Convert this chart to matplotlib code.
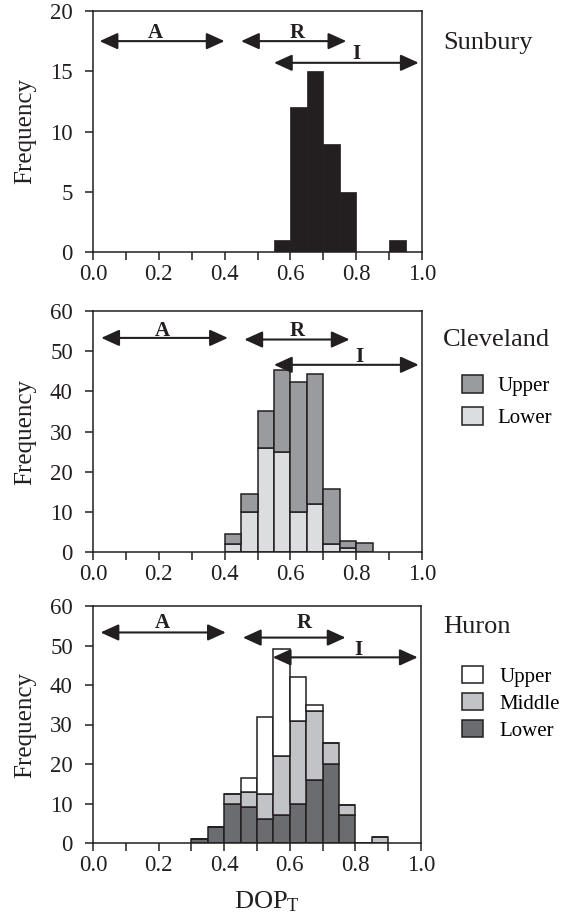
import matplotlib
matplotlib.use("Agg")
import matplotlib.pyplot as plt
from matplotlib.patches import Patch

plt.rcParams.update({
    'font.family': 'Liberation Serif',
    'mathtext.fontset': 'custom',
    'mathtext.rm': 'Liberation Serif',
    'mathtext.it': 'Liberation Serif:italic',
    'axes.linewidth': 1.1,
    'xtick.labelsize': 16.5,
    'ytick.labelsize': 16.5,
})

INK = '#231f20'
BIN_W = 0.05

# Sunbury
sunbury_bins = [0.55, 0.60, 0.65, 0.70, 0.75, 0.80, 0.85, 0.90]
sunbury_freq = [1, 12, 15, 9, 5, 0, 0, 1]

# Cleveland (stacked: lower + upper)
cleveland_bins = [0.40, 0.45, 0.50, 0.55, 0.60, 0.65, 0.70, 0.75, 0.80]
cleveland_lower = [2, 10, 26, 25, 10, 12, 2, 1, 0]
cleveland_upper = [2.4, 4.4, 9.2, 20.3, 32.2, 32.2, 13.6, 1.7, 2.2]

# Huron (stacked: lower + middle + upper)
huron_bins = [0.30, 0.35, 0.40, 0.45, 0.50, 0.55, 0.60, 0.65, 0.70, 0.75, 0.80, 0.85]
huron_lower = [1, 4, 10, 9, 6, 7, 10, 16, 20, 7, 0, 0]
huron_middle = [0, 0, 2.5, 4, 6.3, 15, 21, 17.3, 5.3, 2.5, 0, 1.5]
huron_upper = [0, 0, 0, 3.5, 19.7, 27, 11, 1.7, 0, 0, 0, 0]

x_ticks = [0.0, 0.1, 0.2, 0.3, 0.4, 0.5, 0.6, 0.7, 0.8, 0.9, 1.0]
x_labels = ['0.0', '', '0.2', '', '0.4', '', '0.6', '', '0.8', '', '1.0']

# arrow ranges (x0, x1, y) and label positions per panel
arrows_sun = {'A': (0.02, 0.40, 17.5, 0.19, 18.2),
              'R': (0.45, 0.77, 17.5, 0.62, 18.2),
              'I': (0.55, 0.99, 15.7, 0.80, 16.4)}
arrows_cle = {'A': (0.025, 0.41, 53.3, 0.21, 55.1),
              'R': (0.46, 0.78, 52.9, 0.62, 55.0),
              'I': (0.55, 0.99, 46.6, 0.81, 48.6)}
arrows_hur = {'A': (0.023, 0.405, 53.3, 0.21, 55.6),
              'R': (0.457, 0.77, 52.0, 0.645, 55.6),
              'I': (0.548, 0.99, 47.0, 0.81, 48.9)}

W, H = 571, 917
fig = plt.figure(figsize=(W / 100, H / 100), dpi=100)


def px_axes(left, top, right, bottom):
    return fig.add_axes([left / W, 1 - bottom / H, (right - left) / W, (bottom - top) / H])


def style(ax, ymax, ystep):
    ax.set_xlim(0, 1)
    ax.set_ylim(0, ymax)
    ax.set_xticks(x_ticks)
    ax.set_xticklabels(x_labels)
    ax.set_yticks(range(0, ymax + 1, ystep))
    ax.tick_params(direction='out', length=5.5, width=1.1, colors=INK)
    ax.tick_params(axis='x', pad=3)
    ax.tick_params(axis='y', pad=9)
    for s in ax.spines.values():
        s.set_color(INK)
    ax.set_ylabel('Frequency', fontsize=18, color=INK)
    ax.yaxis.set_label_coords(-0.173, 0.5)


def draw_arrows(ax, arrows):
    for name, (x0, x1, y, lx, ly) in arrows.items():
        ax.annotate('', xy=(x1, y), xytext=(x0, y),
                    arrowprops=dict(arrowstyle='<|-|>,head_length=0.55,head_width=0.25',
                                    mutation_scale=20, lw=1.5, color=INK,
                                    shrinkA=0, shrinkB=0), zorder=5)
        ax.text(lx, ly, name, ha='center', va='center', fontsize=15,
                fontweight='bold', color=INK, zorder=6)


# Sunbury panel
ax1 = px_axes(93, 11, 422, 252)
ax1.bar(sunbury_bins, sunbury_freq, width=BIN_W, align='edge', color=INK, edgecolor=INK, lw=0.5)
style(ax1, 20, 5)
draw_arrows(ax1, arrows_sun)
fig.text(443 / W, 1 - 43 / H, 'Sunbury', ha='left', va='center', fontsize=19, color=INK)

# Cleveland panel
ax2 = px_axes(93, 311, 422, 552)
c_low, c_up = '#dcdddf', '#9a9b9e'
ax2.bar(cleveland_bins, cleveland_lower, width=BIN_W, align='edge', color=c_low, edgecolor=INK, lw=1.1)
ax2.bar(cleveland_bins, cleveland_upper, bottom=cleveland_lower, width=BIN_W, align='edge',
        color=c_up, edgecolor=INK, lw=1.1)
style(ax2, 60, 10)
draw_arrows(ax2, arrows_cle)
fig.text(443 / W, 1 - 340 / H, 'Cleveland', ha='left', va='center', fontsize=19, color=INK)
ax2.legend(handles=[Patch(facecolor=c_up, edgecolor=INK, lw=1.1, label='Upper'),
                    Patch(facecolor=c_low, edgecolor=INK, lw=1.1, label='Lower')],
           loc='upper left', bbox_to_anchor=(462 / W, 1 - 375 / H), bbox_transform=fig.transFigure,
           frameon=False, fontsize=15, borderpad=0, borderaxespad=0,
           handlelength=1.0, handleheight=0.95, handletextpad=0.7, labelspacing=0.5)

# Huron panel
ax3 = px_axes(93, 606, 421, 843)
h_low, h_mid, h_up = '#6b6c6f', '#c2c3c6', '#ffffff'
mid_bottom = [a for a in huron_lower]
up_bottom = [a + b for a, b in zip(huron_lower, huron_middle)]
ax3.bar(huron_bins, huron_lower, width=BIN_W, align='edge', color=h_low, edgecolor=INK, lw=1.1)
ax3.bar(huron_bins, huron_middle, bottom=mid_bottom, width=BIN_W, align='edge',
        color=h_mid, edgecolor=INK, lw=1.1)
ax3.bar(huron_bins, huron_upper, bottom=up_bottom, width=BIN_W, align='edge',
        color=h_up, edgecolor=INK, lw=1.1)
style(ax3, 60, 10)
draw_arrows(ax3, arrows_hur)
fig.text(443 / W, 1 - 627 / H, 'Huron', ha='left', va='center', fontsize=19, color=INK)
ax3.legend(handles=[Patch(facecolor=h_up, edgecolor=INK, lw=1.1, label='Upper'),
                    Patch(facecolor=h_mid, edgecolor=INK, lw=1.1, label='Middle'),
                    Patch(facecolor=h_low, edgecolor=INK, lw=1.1, label='Lower')],
           loc='upper left', bbox_to_anchor=(462 / W, 1 - 666 / H), bbox_transform=fig.transFigure,
           frameon=False, fontsize=15, borderpad=0, borderaxespad=0,
           handlelength=1.0, handleheight=0.9, handletextpad=0.8, labelspacing=0.3)

fig.text(267 / W, 1 - 902 / H, r'DOP$_{\mathrm{T}}$', ha='center', va='center', fontsize=19, color=INK)

fig.savefig('out.png', dpi=100)
